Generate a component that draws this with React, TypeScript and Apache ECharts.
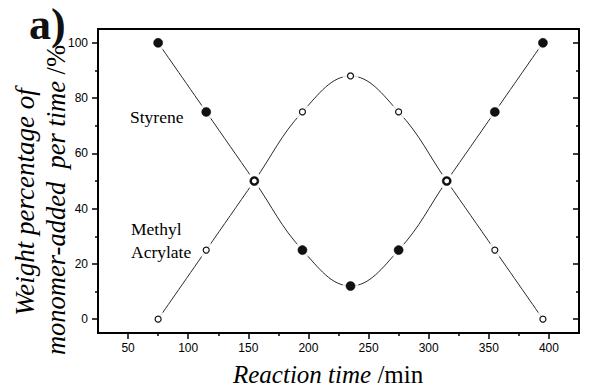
import React, { useEffect, useRef } from "react";
import * as echarts from "echarts";

const timeMin = [75, 115, 155, 195, 235, 275, 315, 355, 395];
const styrene = [100, 75, 50, 25, 12, 25, 50, 75, 100];
const methylAcrylate = [0, 25, 50, 75, 88, 75, 50, 25, 0];

const xMajorTicks = [50, 100, 150, 200, 250, 300, 350, 400];
const xMinorTicks = [75, 125, 175, 225, 275, 325, 375];
const yMajorTicks = [0, 20, 40, 60, 80, 100];
const yMinorTicks = [10, 30, 50, 70, 90];

const SERIF = "'Liberation Serif', 'Times New Roman', serif";
const SANS = "'Liberation Sans', Arial, sans-serif";

export default function App() {
  const ref = useRef<HTMLDivElement>(null);
  useEffect(() => {
    if (!ref.current) return;
    const chart = echarts.init(ref.current, undefined, { renderer: "svg" });
    const sty = timeMin.map((t, i) => [t, styrene[i]]);
    const ma = timeMin.map((t, i) => [t, methylAcrylate[i]]);
    const xBase = {
      type: "value" as const,
      min: 25,
      max: 425,
      position: "bottom" as const,
      splitLine: { show: false },
    };
    const yBase = {
      type: "value" as const,
      min: -5,
      max: 105,
      splitLine: { show: false },
    };
    const tickStyle = { color: "#000", width: 1.5 };
    chart.setOption({
      animation: false,
      grid: {
        left: 98,
        top: 29,
        right: 21,
        bottom: 54,
        show: true,
        borderColor: "#000",
        borderWidth: 2,
        backgroundColor: "transparent",
      },
      xAxis: [
        {
          ...xBase,
          axisLine: { show: true, onZero: false, lineStyle: { color: "#000", width: 2 } },
          axisTick: { show: true, length: 6, customValues: xMajorTicks, lineStyle: tickStyle },
          axisLabel: {
            show: true,
            customValues: xMajorTicks,
            margin: 9,
            color: "#000",
            fontFamily: SANS,
            fontSize: 12,
          },
        },
        {
          ...xBase,
          axisLine: { show: false, onZero: false },
          axisTick: { show: true, length: 3, customValues: xMinorTicks, lineStyle: tickStyle },
          axisLabel: { show: false },
        },
      ],
      yAxis: [
        {
          ...yBase,
          position: "left",
          axisLine: { show: true, onZero: false, lineStyle: { color: "#000", width: 2 } },
          axisTick: { show: true, length: 6, customValues: yMajorTicks, lineStyle: tickStyle },
          axisLabel: {
            show: true,
            customValues: yMajorTicks,
            margin: 10,
            color: "#000",
            fontFamily: SANS,
            fontSize: 12,
          },
        },
        {
          ...yBase,
          position: "left",
          axisLine: { show: false, onZero: false },
          axisTick: { show: true, length: 3, customValues: yMinorTicks, lineStyle: tickStyle },
          axisLabel: { show: false },
        },
        {
          ...yBase,
          position: "right",
          axisLine: { show: true, onZero: false, lineStyle: { color: "#000", width: 2 } },
          axisTick: { show: true, inside: true, length: 6, customValues: yMajorTicks, lineStyle: tickStyle },
          axisLabel: { show: false },
        },
        {
          ...yBase,
          position: "right",
          axisLine: { show: false, onZero: false },
          axisTick: { show: true, inside: true, length: 3, customValues: yMinorTicks, lineStyle: tickStyle },
          axisLabel: { show: false },
        },
      ],
      series: [
        {
          name: "Styrene line",
          type: "line",
          data: sty,
          smooth: 0.4,
          symbol: "none",
          lineStyle: { color: "#2a2a2a", width: 1 },
          z: 1,
        },
        {
          name: "Methyl Acrylate line",
          type: "line",
          data: ma,
          smooth: 0.4,
          symbol: "none",
          lineStyle: { color: "#2a2a2a", width: 1 },
          z: 1,
        },
        {
          name: "gap",
          type: "scatter",
          data: [...sty, ...ma],
          symbolSize: 16,
          itemStyle: { color: "#fff" },
          z: 2,
          silent: true,
        },
        {
          name: "Styrene",
          type: "scatter",
          data: sty,
          symbolSize: 9,
          itemStyle: { color: "#111", borderColor: "#000", borderWidth: 0.5, opacity: 1 },
          z: 3,
        },
        {
          name: "Methyl Acrylate",
          type: "scatter",
          data: ma,
          symbolSize: 6,
          itemStyle: { color: "#fff", borderColor: "#111", borderWidth: 1.2, opacity: 1 },
          z: 4,
        },
      ],
      graphic: [
        {
          type: "text",
          left: 29,
          top: 2,
          style: {
            text: "a)",
            font: `bold 44px ${SERIF}`,
            fill: "#111",
          },
        },
        {
          type: "text",
          x: 130,
          y: 117,
          style: {
            text: "Styrene",
            font: `17.5px ${SERIF}`,
            fill: "#000",
            textAlign: "left",
            textVerticalAlign: "middle",
          },
        },
        {
          type: "text",
          x: 131,
          y: 240,
          style: {
            text: "Methyl\nAcrylate",
            font: `17.5px ${SERIF}`,
            lineHeight: 23,
            fill: "#000",
            textAlign: "left",
            textVerticalAlign: "middle",
          },
        },
        {
          type: "text",
          x: 233,
          y: 374,
          style: {
            text: "{i|Reaction time }{n|/min}",
            textAlign: "left",
            textVerticalAlign: "middle",
            rich: {
              i: { fontFamily: SERIF, fontStyle: "italic", fontSize: 25, fill: "#000" },
              n: { fontFamily: SERIF, fontSize: 25, fill: "#000" },
            },
          },
        },
        {
          type: "text",
          x: 25,
          y: 202,
          rotation: Math.PI / 2,
          style: {
            text: "{i|Weight percentage of}",
            textAlign: "center",
            textVerticalAlign: "middle",
            rich: {
              i: { fontFamily: SERIF, fontStyle: "italic", fontSize: 27, fill: "#000" },
            },
          },
        },
        {
          type: "text",
          x: 56,
          y: 200,
          rotation: Math.PI / 2,
          style: {
            text: "{i|monomer-added  per time }{n|/%}",
            textAlign: "center",
            textVerticalAlign: "middle",
            rich: {
              i: { fontFamily: SERIF, fontStyle: "italic", fontSize: 26.5, fill: "#000" },
              n: { fontFamily: SERIF, fontSize: 26.5, fill: "#000" },
            },
          },
        },
      ],
    });
    return () => chart.dispose();
  }, []);
  return (
    <div
      ref={ref}
      style={{ position: "fixed", left: 0, top: 0, width: 600, height: 387, background: "#fff" }}
    />
  );
}
